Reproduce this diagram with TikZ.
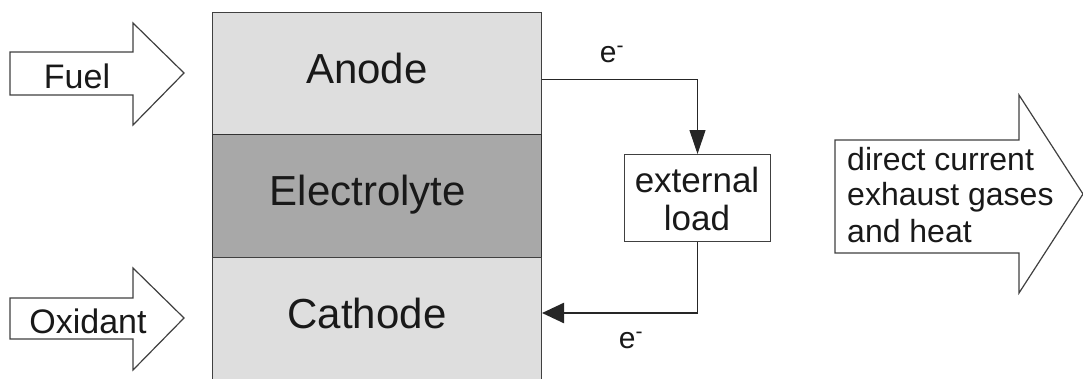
\documentclass[tikz,border=0pt]{standalone}
\usepackage{fontspec}
\setmainfont{Liberation Sans}
\usetikzlibrary{arrows.meta}
\definecolor{lightcell}{gray}{0.87}
\definecolor{darkcell}{gray}{0.66}
\definecolor{edge}{gray}{0.25}
\definecolor{ink}{gray}{0.1}
\tikzset{
  layer/.style={draw=edge, line width=1pt, minimum width=329pt, inner sep=0pt},
  layertext/.style={font=\fontsize{42}{48}\selectfont, inner sep=0pt, anchor=base, text=ink},
  blockarrow/.style={draw=edge, line width=1.2pt, fill=white, line join=miter},
  flowlabel/.style={font=\fontsize{34}{40}\selectfont, inner sep=0pt, anchor=base, text=ink},
  wire/.style={draw=black!85, line width=1pt},
  elabel/.style={font=\fontsize{30}{34}\selectfont, inner sep=0pt, anchor=base, text=ink},
}
\begin{document}
\begin{tikzpicture}[x=1pt,y=-1pt]
\useasboundingbox (0,0) rectangle (1083,378);
% block arrows
\draw[blockarrow] (10,52) -- (133,52) -- (133,23) -- (184,73) -- (133,125) -- (133,95) -- (10,95) -- cycle;
\node[flowlabel] (fuel) at (77,88) {Fuel};
\draw[blockarrow] (10,298) -- (133,298) -- (133,268) -- (184,318) -- (133,370) -- (133,339) -- (10,339) -- cycle;
\node[flowlabel] (oxidant) at (88,333) {Oxidant};
\draw[blockarrow] (835,140) -- (1019,140) -- (1019,95) -- (1083,194) -- (1019,293) -- (1019,253) -- (835,253) -- cycle;
\node[font=\fontsize{32}{36}\selectfont, inner sep=0pt, text=ink, anchor=base west] (out1) at (847,170) {direct current};
\node[font=\fontsize{32}{36}\selectfont, inner sep=0pt, text=ink, anchor=base west] (out2) at (847,205) {exhaust gases};
\node[font=\fontsize{32}{36}\selectfont, inner sep=0pt, text=ink, anchor=base west] (out3) at (847,242) {and heat};
% cell stack
\node[layer, fill=lightcell, minimum height=122pt, anchor=north west] (anode) at (212,12) {};
\node[layer, fill=darkcell, draw=black!80, minimum height=123pt, anchor=north west] (electrolyte) at (212,134) {};
\node[layer, fill=lightcell, minimum height=150pt, anchor=north west] (cathode) at (212,257) {};
\node[layertext] (anodetext) at (367,83) {Anode};
\node[layertext] (electrolytetext) at (368,205) {Electrolyte};
\node[layertext] (cathodetext) at (367,328) {Cathode};
% external load
\node[draw=edge, line width=1pt, minimum width=146pt, minimum height=87pt, inner sep=0pt, anchor=north west] (load) at (624,154) {};
\node[font=\fontsize{35}{40}\selectfont, inner sep=0pt, anchor=base, text=ink] (loadtext1) at (697,192) {external};
\node[font=\fontsize{35}{40}\selectfont, inner sep=0pt, anchor=base, text=ink] (loadtext2) at (697,230) {load};
\coordinate (a1) at (anode.east |- 0,79);
\coordinate (c1) at (cathode.east |- 0,313);
\coordinate (corner) at (load.south |- c1);
\draw[wire, -{Triangle[length=24pt,width=16pt]}] (a1) -| (load.north);
\draw[wire] (load.south) -- ([yshift=1pt]corner);
\draw[wire, line width=2.5pt, -{Triangle[length=22pt,width=20pt]}] ([xshift=0.5pt]corner) -- (c1);
\node[elabel] (e1) at (612,62) {e\textsuperscript{-}};
\node[elabel] (e2) at (631,348) {e\textsuperscript{-}};
\end{tikzpicture}
\end{document}
